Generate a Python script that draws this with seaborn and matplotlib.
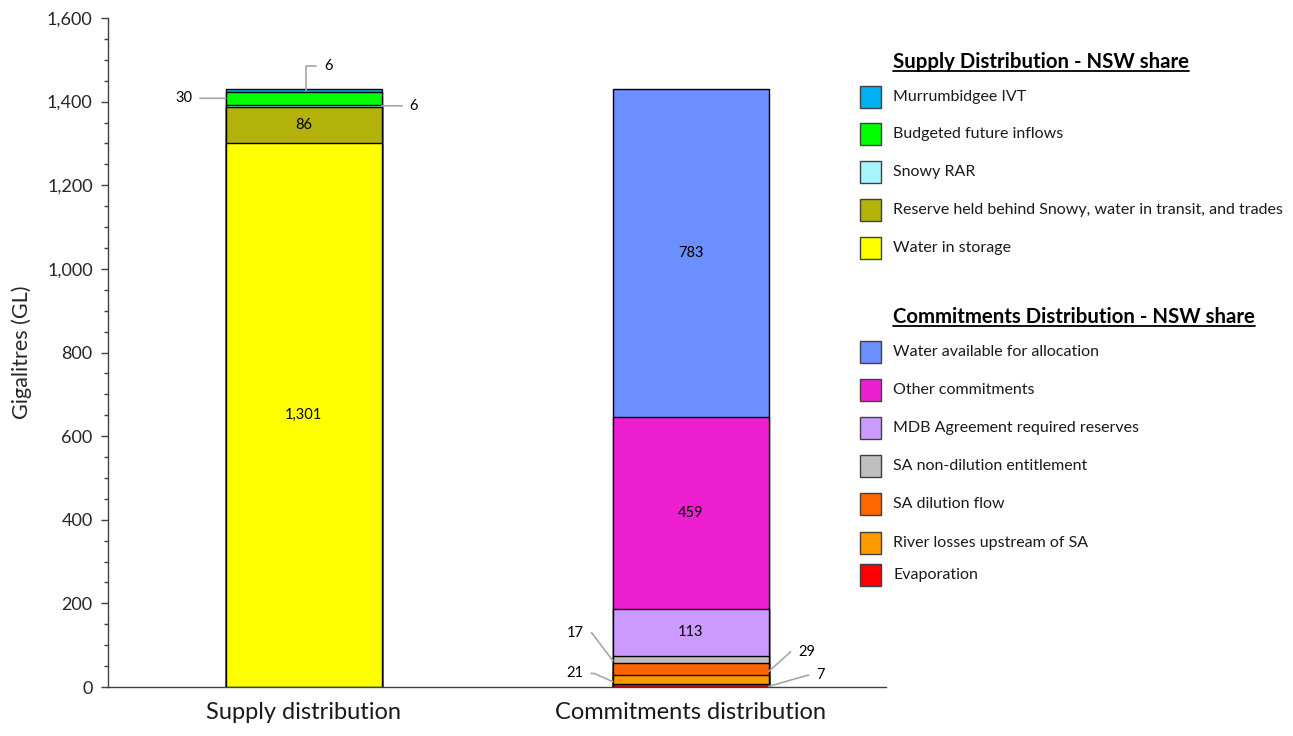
import numpy as np
import pandas as pd
import matplotlib
matplotlib.use("Agg")
import matplotlib.pyplot as plt
import seaborn as sns
from matplotlib.patches import Rectangle
from matplotlib.lines import Line2D
from matplotlib.ticker import MultipleLocator, FuncFormatter

# ---------------- data ----------------
categories = ["Supply distribution", "Commitments distribution"]

supply_labels = ["Water in storage",
                 "Reserve held behind Snowy, water in transit, and trades",
                 "Snowy RAR", "Budgeted future inflows", "Murrumbidgee IVT"]
supply_values = [1301, 86, 6, 30, 6]
supply_colors = ["#FFFF00", "#B3B20B", "#A6F4FF", "#00FF00", "#00B0F0"]

commit_labels = ["Evaporation", "River losses upstream of SA", "SA dilution flow",
                 "SA non-dilution entitlement", "MDB Agreement required reserves",
                 "Other commitments", "Water available for allocation"]
commit_values = [7, 21, 29, 17, 113, 459, 783]
commit_colors = ["#FF0000", "#FF9900", "#FF6600", "#BFBFBF", "#CC99FF",
                 "#EE1FD1", "#6B8FFF"]

y_ticks = [0, 200, 400, 600, 800, 1000, 1200, 1400, 1600]

# ---------------- build table ----------------
rows = []
for cat, labels, vals, cols in [(categories[0], supply_labels, supply_values, supply_colors),
                                (categories[1], commit_labels, commit_values, commit_colors)]:
    cum = np.cumsum(vals)
    for lab, v, c, top in zip(labels, vals, cols, cum):
        rows.append(dict(category=cat, series=lab, value=v, color=c,
                         top=top, mid=top - v / 2.0))
df = pd.DataFrame(rows)

sns.set_theme(style="white")
FONT = ["Lato", "DejaVu Sans"]
plt.rcParams["font.family"] = FONT

fig = plt.figure(figsize=(12.93, 7.36), dpi=100)
ax = fig.add_axes([108 / 1293, 1 - 687 / 736, (886 - 108) / 1293, (687 - 18) / 736])

BAR_W = 0.403
# draw cumulative tops, largest first, so lower segments overlay
for _, r in df.sort_values("top", ascending=False).iterrows():
    sub = pd.DataFrame({"category": [r["category"]], "top": [r["top"]]})
    sns.barplot(data=sub, x="category", y="top", order=categories, color=r["color"],
                saturation=1, width=BAR_W, edgecolor="black", linewidth=1.0,
                errorbar=None, ax=ax)

ax.set_xlim(-0.506, 1.504)
ax.set_ylim(0, 1600)
ax.set_yticks(y_ticks)
ax.yaxis.set_minor_locator(MultipleLocator(50))
ax.yaxis.set_major_formatter(FuncFormatter(lambda v, p: f"{int(v):,}"))
ax.tick_params(axis="y", which="major", direction="out", length=5, width=1,
               color="#404040", labelsize=13, left=True, pad=6)
ax.tick_params(axis="y", which="minor", direction="out", length=3, width=1,
               color="#404040", left=True)
ax.tick_params(axis="x", length=0, labelsize=17, pad=11)
for lab in ax.get_xticklabels():
    lab.set_color("#1a1a1a")
ax.set_xlabel("")
ax.set_ylabel("Gigalitres (GL)", fontsize=15.5, labelpad=11)
for s in ["top", "right"]:
    ax.spines[s].set_visible(False)
ax.spines["left"].set_color("#404040")
ax.spines["bottom"].set_color("#404040")
ax.spines["left"].set_linewidth(1)
ax.spines["bottom"].set_linewidth(1)

# ---------------- value labels ----------------
LBL = 10.5
pos = {c: i for i, c in enumerate(categories)}
inside = {"Water in storage", "Reserve held behind Snowy, water in transit, and trades",
          "MDB Agreement required reserves", "Other commitments",
          "Water available for allocation"}
for _, r in df.iterrows():
    if r["series"] in inside:
        ax.text(pos[r["category"]], r["mid"], f"{r['value']:,}", ha="center",
                va="center", fontsize=LBL, color="black")

lc = "#A6A6A6"
half = BAR_W / 2


def get(series):
    return df[df.series == series].iloc[0]


def callout(series, side, dx, dy, angle, ydata_off=0.0, xoff=0.0):
    r = get(series)
    x = pos[r.category] + (half if side == "right" else -half) + xoff
    if side == "center":
        x = pos[r.category] + xoff
    ha = "left" if side in ("right", "center") else "right"
    cs = "arc3" if angle is None else f"angle,angleA=0,angleB={angle},rad=0"
    ax.annotate(f"{r['value']:,}", xy=(x, r["mid"] + ydata_off), xytext=(dx, dy),
                textcoords="offset points", ha=ha, va="center", fontsize=LBL,
                color="black",
                arrowprops=dict(arrowstyle="-", color=lc, lw=1.2, shrinkA=3,
                                shrinkB=0, connectionstyle=cs))

# supply
callout("Murrumbidgee IVT", "center", 13, 18, 90, xoff=0.005)
callout("Budgeted future inflows", "left", -24, 0, None)
callout("Snowy RAR", "right", 20, 0, None)

# commitments
callout("SA non-dilution entitlement", "left", -21, 20, 127, ydata_off=-3)
callout("River losses upstream of SA", "left", -21, 6, 156, ydata_off=-5)
callout("SA dilution flow", "right", 21, 14, 42, ydata_off=-5)
callout("Evaporation", "right", 34, 8, 16, ydata_off=-2)

# ---------------- legend ----------------
W, H = 1293, 736


def fx(px):
    return px / W


def fy(py):
    return 1 - py / H


def title(px, py, txt):
    return fig.text(fx(px), fy(py), txt, fontsize=14.7, fontweight="bold", ha="left",
                    va="center", color="black")


def item(py, txt, col):
    fig.patches.append(Rectangle((fx(860), fy(py + 11)), 21 / W, 22 / H,
                                 transform=fig.transFigure, facecolor=col,
                                 edgecolor="#404040", lw=1.0))
    fig.text(fx(893), fy(py), txt, fontsize=11.5, ha="left", va="center", color="#1a1a1a")

titles = [title(893, 62, "Supply Distribution - NSW share"),
          title(893, 317, "Commitments Distribution - NSW share")]
for py, lab in zip([97, 134, 172, 210, 248], supply_labels[::-1]):
    item(py, lab, supply_colors[supply_labels.index(lab)])
for py, lab in zip([352, 390, 428, 466, 504, 543, 575], commit_labels[::-1]):
    item(py, lab, commit_colors[commit_labels.index(lab)])

fig.canvas.draw()
rend = fig.canvas.get_renderer()
for t in titles:
    bb = t.get_window_extent(rend).transformed(fig.transFigure.inverted())
    yline = bb.y0 + 0.002
    fig.add_artist(Line2D([bb.x0, bb.x1], [yline, yline], transform=fig.transFigure,
                          color="black", lw=1.3))

fig.savefig("out.png", dpi=100)
